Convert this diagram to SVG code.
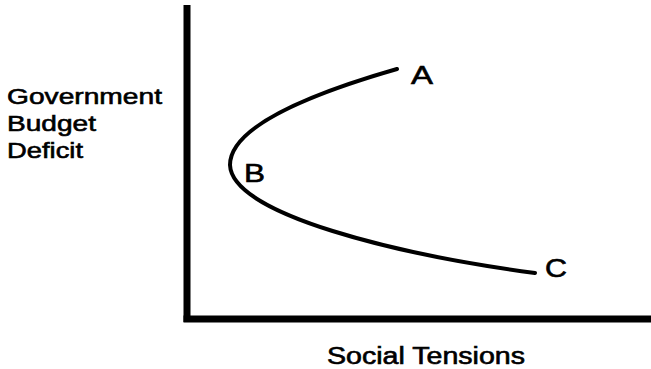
<svg xmlns="http://www.w3.org/2000/svg" width="651" height="369" viewBox="0 0 651 369">
  <style>
    .lbl { font-family: "Liberation Sans", Arial, sans-serif; fill: #000; stroke: #000; stroke-width: 0.6; }
    .axis { stroke: #000; stroke-width: 7; fill: none; }
    .curve { stroke: #000; stroke-width: 4; fill: none; stroke-linecap: round; }
  </style>
  <rect width="651" height="369" fill="#fff"/>
  <g id="axes">
    <line class="axis" x1="187" y1="5" x2="187" y2="322"/>
    <line class="axis" x1="183.5" y1="319" x2="651" y2="319"/>
  </g>
  <g id="connectors">
    <path class="curve" d="M397,69 Q230,117 230,165 C232,215 400,255 535,273"/>
  </g>
  <g id="y-label">
    <text class="lbl" x="7" y="104" font-size="22.5" textLength="155" lengthAdjust="spacingAndGlyphs">Government</text>
    <text class="lbl" x="7" y="131" font-size="22.5" textLength="89" lengthAdjust="spacingAndGlyphs">Budget</text>
    <text class="lbl" x="7" y="158" font-size="22.5" textLength="76" lengthAdjust="spacingAndGlyphs">Deficit</text>
  </g>
  <g id="x-label">
    <text class="lbl" x="327" y="364" font-size="23" textLength="198" lengthAdjust="spacingAndGlyphs">Social Tensions</text>
  </g>
  <g id="point-A">
    <text class="lbl" x="411" y="84" font-size="25" textLength="22" lengthAdjust="spacingAndGlyphs">A</text>
  </g>
  <g id="point-B">
    <text class="lbl" x="244" y="182" font-size="25" textLength="21" lengthAdjust="spacingAndGlyphs">B</text>
  </g>
  <g id="point-C">
    <text class="lbl" x="545" y="277" font-size="25" textLength="22" lengthAdjust="spacingAndGlyphs">C</text>
  </g>
</svg>
